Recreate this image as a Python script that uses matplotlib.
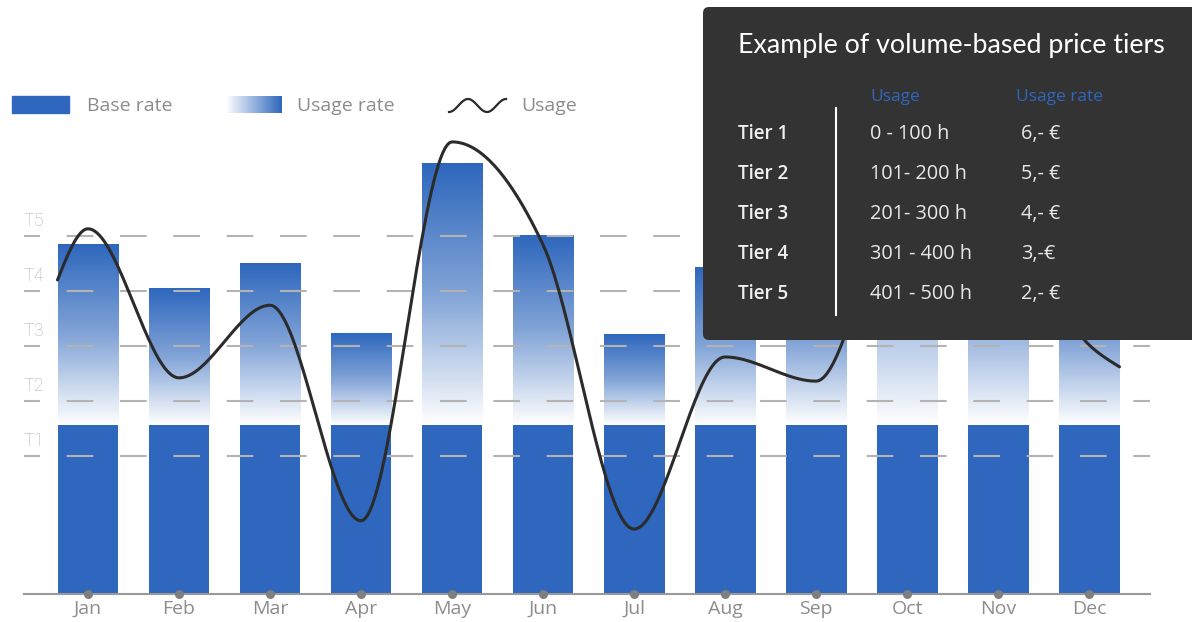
import numpy as np
import matplotlib.pyplot as plt
from matplotlib.colors import LinearSegmentedColormap
from matplotlib.patches import Rectangle, FancyBboxPatch

plt.rcParams['font.family'] = ['Open Sans', 'DejaVu Sans']
plt.rcParams['lines.scale_dashes'] = False

# data
months = ['Jan', 'Feb', 'Mar', 'Apr', 'May', 'Jun', 'Jul', 'Aug', 'Sep', 'Oct', 'Nov', 'Dec']
base_rate = 307
total_rate = [636, 555, 600, 473, 782, 651, 471, 593, 607, 840, 707, 607]
usage = [664, 393, 525, 133, 822, 635, 118, 431, 387, 735, 716, 453]
usage_start = 571
usage_end = 413
tier_levels = [251, 351, 451, 551, 651]
tier_labels = ['T1', 'T2', 'T3', 'T4', 'T5']

tiers = ['Tier 1', 'Tier 2', 'Tier 3', 'Tier 4', 'Tier 5']
tier_usage = ['0 - 100 h', '101- 200 h', '201- 300 h', '301 - 400 h', '401 - 500 h']
tier_price = ['6,- €', '5,- €', '4,- €', '3,-€', '2,- €']

BLUE = '#2e67bd'
GREY = '#8c8c8c'
grad_cmap = LinearSegmentedColormap.from_list(
    'grad', [(0, '#ffffff'), (0.5, '#82a4d7'), (1, BLUE)])


def monotone_x(x, y, n=40):
    # monotone cubic like d3.curveMonotoneX
    x = np.asarray(x, float)
    y = np.asarray(y, float)
    h = np.diff(x)
    s = np.diff(y) / h
    m = np.zeros_like(y)
    for i in range(1, len(y) - 1):
        p = (s[i - 1] * h[i] + s[i] * h[i - 1]) / (h[i - 1] + h[i])
        m[i] = (np.sign(s[i - 1]) + np.sign(s[i])) * min(abs(s[i - 1]), abs(s[i]), 0.5 * abs(p))
    m[0] = (3 * s[0] - m[1]) / 2
    m[-1] = (3 * s[-1] - m[-2]) / 2
    xs, ys = [], []
    for i in range(len(h)):
        t = np.linspace(0, 1, n)
        h00 = 2 * t**3 - 3 * t**2 + 1
        h10 = t**3 - 2 * t**2 + t
        h01 = -2 * t**3 + 3 * t**2
        h11 = t**3 - t**2
        xs.append(x[i] + t * h[i])
        ys.append(h00 * y[i] + h10 * h[i] * m[i] + h01 * y[i + 1] + h11 * h[i] * m[i + 1])
    return np.concatenate(xs), np.concatenate(ys)


W, H = 1192, 622
fig = plt.figure(figsize=(W / 100, H / 100), dpi=100)
ax = fig.add_axes([24 / W, 28 / H, (1150 - 24) / W, 594 / H])

x = np.arange(len(months))
bar_w = 0.67

# base rate bars
ax.bar(x, base_rate, width=bar_w, color=BLUE, zorder=2)

# usage rate gradient bars
grad = np.linspace(0, 1, 256).reshape(-1, 1)
for i, top in enumerate(total_rate):
    ax.imshow(grad, extent=[i - bar_w / 2, i + bar_w / 2, base_rate, top],
              origin='lower', aspect='auto', cmap=grad_cmap, zorder=2,
              interpolation='bilinear')

# tier lines
for lvl, lab in zip(tier_levels, tier_labels):
    ax.axhline(lvl, color='#b3b3b3', lw=1.5, linestyle=(7.7, (19.2, 19.2)), zorder=3)
    ax.text(-0.703, lvl + 27, lab, color='#b0b0b0', fontsize=13, va='center',
            ha='left', family='Roboto', fontweight='light', zorder=3)

# usage line
lx = np.concatenate([[-bar_w / 2], x, [len(months) - 1 + bar_w / 2]])
ly = np.concatenate([[usage_start], usage, [usage_end]])
cx, cy = monotone_x(lx, ly)
ax.plot(cx, cy, color='#2b2b2b', lw=2.2, zorder=4, solid_capstyle='round')

# month dots on the axis
ax.scatter(x, np.zeros(len(x)), s=30, color='#7f7f7f', zorder=5, clip_on=False)

ax.set_xlim(-0.7033, 11.670)
ax.set_ylim(0, 1080)
ax.set_xticks(x, months)
ax.tick_params(axis='x', length=0, pad=4, labelsize=14, labelcolor=GREY)
ax.set_yticks([])
for side in ['top', 'left', 'right']:
    ax.spines[side].set_visible(False)
ax.spines['bottom'].set_color('#999999')
ax.spines['bottom'].set_linewidth(1.5)
ax.patch.set_alpha(0)

# overlay in pixel coordinates: legend and tier box
ov = fig.add_axes([0, 0, 1, 1], zorder=10)
ov.set_xlim(0, W)
ov.set_ylim(H, 0)
ov.axis('off')

ov.add_patch(Rectangle((12, 96), 57, 17, color=BLUE))
ov.text(87, 106, 'Base rate', color=GREY, fontsize=14, va='center')
ov.imshow(np.linspace(0, 1, 256).reshape(1, -1), extent=[226, 282, 113, 96],
          cmap=LinearSegmentedColormap.from_list('lg', ['#ffffff', BLUE]), aspect='auto')
ov.text(297, 106, 'Usage rate', color=GREY, fontsize=14, va='center')
t = np.linspace(-np.pi / 2, 2.5 * np.pi, 100)
ov.plot(np.linspace(449, 506, 100), 105.5 - 6.5 * np.sin(t), color='#2b2b2b', lw=1.6)
ov.text(521, 106, 'Usage', color=GREY, fontsize=14, va='center')

ov.add_patch(FancyBboxPatch((703, 7), 520, 333, boxstyle='round,pad=0,rounding_size=6',
                            fc='#333333', ec='none'))
ov.text(738, 45, 'Example of volume-based price tiers', color='white', fontsize=19.3,
        va='center', family='Lato')
ov.text(870, 97, 'Usage', color=BLUE, fontsize=12.5, va='center')
ov.text(1016, 97, 'Usage rate', color=BLUE, fontsize=12.5, va='center')
ov.plot([836, 836], [108, 315], color='white', lw=1.5)
for k in range(len(tiers)):
    yy = 134 + 40 * k
    ov.text(738, yy, tiers[k], color='#f0f0f0', fontsize=13.5, va='center', fontweight='semibold')
    ov.text(870, yy, tier_usage[k], color='#e8e8e8', fontsize=14.3, va='center')
    ov.text(1021, yy, tier_price[k], color='#e8e8e8', fontsize=14.3, va='center')
ov.set_xlim(0, W)
ov.set_ylim(H, 0)

fig.savefig('out.png', dpi=100)
